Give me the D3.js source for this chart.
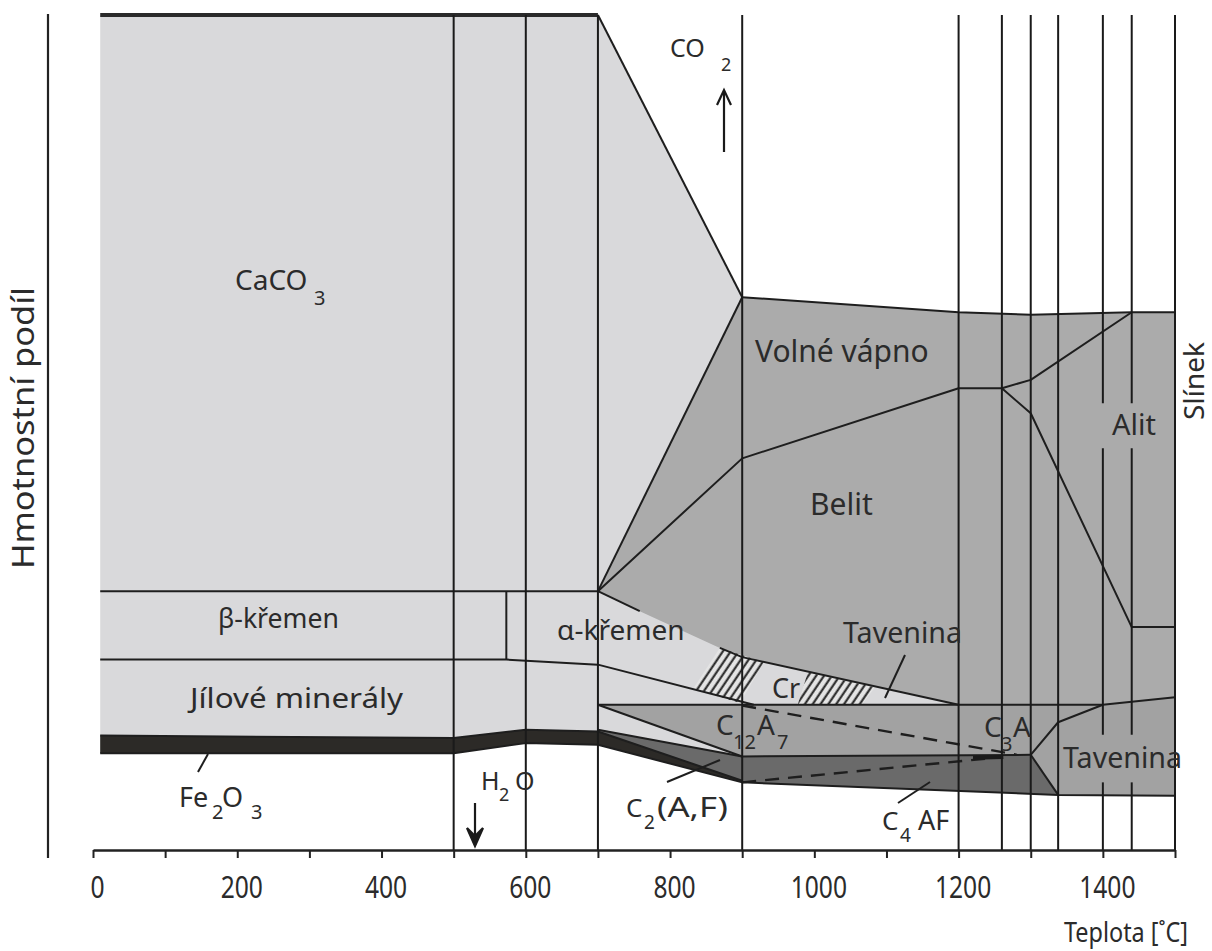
<!DOCTYPE html>
<html><head><meta charset="utf-8">
<script src="https://cdn.jsdelivr.net/npm/d3@7"></script>
<style>
body{margin:0;background:#fff}
svg{display:block}
text{font-family:"Noto Sans","Open Sans",sans-serif;fill:#2b2b2b}
</style>
</head><body><svg id="c" width="1212" height="951"></svg>
<script>
// ---------- data: temperature [°C], mass share [arbitrary 0-100 units] ----------
const transitionTemps = [500, 600, 700, 900, 1200, 1260, 1300, 1338, 1400, 1440, 1500];
const gappedTemps = [1400, 1440];
const labelGaps = [[53.5, 48.1], [13.8, 8.1]];
const tickValues = [0,100,200,300,400,500,600,700,800,900,1000,1100,1200,1300,1400,1500];
const tickLabels = [0, 200, 400, 600, 800, 1000, 1200, 1400];

// region outlines
const stackOutline = [[10,100],[700,100],[900,66.2],[1200,64.4],[1300,64.1],[1500,64.4],[1500,6.5],[1338,6.6],[900,8.1],[700,12.6],[600,12.8],[500,11.6],[10,11.6]];
const silicateZone = [[700,31.0],[900,66.2],[1200,64.4],[1300,64.1],[1500,64.4],[1500,18.3],[1400,17.4],[1200,17.4],[900,23.1],[869,24.2],[758,28.6]];
const aluminateZone = [[700,17.4],[1400,17.4],[1500,18.3],[1500,6.5],[1338,6.6],[1300,11.4],[900,11.2]];
const ferriteZone = [[700,14.4],[900,11.2],[1300,11.4],[1338,6.6],[900,8.1],[700,12.6]];
const ironZone = [[10,13.7],[500,13.4],[600,14.4],[700,14.2],[900,8.3],[900,8.1],[700,12.6],[600,12.8],[500,11.6],[10,11.6]];
const hatchLeft = [[832,19.3],[869,24.2],[930,22.5],[897,17.6]];
const hatchRight = [[977,17.4],[991,21.3],[1084,19.5],[1066,17.4]];

// boundary lines
const topLine = [[10,100],[700,100]];
const caco3Edge = [[700,100],[900,66.2]];
const clinkerTop = [[900,66.2],[1200,64.4],[1300,64.1],[1440,64.4],[1500,64.4]];
const caco3Lower = [[700,31.0],[900,66.2]];
const limeBelit = [[700,31.0],[900,46.9],[1200,55.3],[1260,55.3],[1300,56.3],[1440,64.4]];
const alitBelit = [[1260,55.3],[1300,52.3],[1440,26.7],[1500,26.7]];
const quartzTop = [[10,31.0],[700,31.0]];
const alphaEdge = [[700,31.0],[758,28.6]];
const betaAlpha = [[573,31.0],[573,22.8]];
const clayTop = [[10,22.8],[573,22.8],[700,22.2],[916,17.4]];
const meltTop = [[869,24.2],[900,23.1],[1200,17.4]];
const silicateBase = [[700,17.4],[1400,17.4],[1500,18.3]];
const c12a7Edge = [[700,17.4],[900,11.2]];
const ferriteTop = [[700,14.4],[900,11.2]];
const c4afTop = [[900,11.2],[1300,11.4]];
const c3aMelt = [[1300,11.4],[1338,15.3],[1400,17.4]];
const c4afMelt = [[1300,11.4],[1338,6.6]];
const baseLine = [[10,11.6],[500,11.6],[600,12.8],[700,12.6],[900,8.1],[1338,6.6],[1500,6.5]];
const ironTop = [[10,13.7],[500,13.4],[600,14.4],[700,14.2],[900,8.3]];
const dashC3A = [[900,17.3],[1281,11.4]];
const dashC4AF = [[900,8.1],[1257,11.1]];
const boldDash = [[1220,11.05],[1262,11.15]];

// ---------- drawing ----------
const svg = d3.select("#c");
const x = d3.scaleLinear().domain([0,1500]).range([93,1175]);
const y = d3.scaleLinear().domain([0,100]).range([850,15]);
const line = d3.line().x(d=>x(d[0])).y(d=>y(d[1]));

const defs = svg.append("defs");
const pat = defs.append("pattern").attr("id","hatch").attr("patternUnits","userSpaceOnUse")
  .attr("width",6.5).attr("height",6.5).attr("patternTransform","rotate(34)");
pat.append("rect").attr("width",6.5).attr("height",6.5).attr("fill","#e4e4e4");
pat.append("line").attr("x1",1.5).attr("y1",0).attr("x2",1.5).attr("y2",6.5).attr("stroke","#1e1e1e").attr("stroke-width",2);

const fills = [
  [stackOutline, "#d9d9db"],
  [silicateZone, "#ababab"],
  [aluminateZone, "#a2a2a2"],
  [ferriteZone, "#6a6a6a"],
  [ironZone, "#2c2a27"],
  [hatchLeft, "url(#hatch)"],
  [hatchRight, "url(#hatch)"]
];
svg.append("g").selectAll("path").data(fills).join("path")
  .attr("d", d => line(d[0]) + "Z").attr("fill", d => d[1]).attr("stroke","none");

const solid = [caco3Edge, clinkerTop, caco3Lower, limeBelit, alitBelit, quartzTop, alphaEdge,
  betaAlpha, clayTop, meltTop, silicateBase, c12a7Edge, ferriteTop, c4afTop, c3aMelt, c4afMelt, baseLine, ironTop];
svg.append("g").selectAll("path").data(solid).join("path")
  .attr("d", line).attr("fill","none").attr("stroke","#1e1e1e").attr("stroke-width",2).attr("stroke-linejoin","round");
svg.append("path").attr("d", line(topLine)).attr("stroke","#2a2a2a").attr("stroke-width",4).attr("fill","none");
svg.append("g").selectAll("path").data([dashC3A, dashC4AF]).join("path")
  .attr("d", line).attr("fill","none").attr("stroke","#1e1e1e").attr("stroke-width",2.4).attr("stroke-dasharray","14 9");
svg.append("path").attr("d", line(boldDash)).attr("stroke","#1a1a1a").attr("stroke-width",4).attr("fill","none");

// vertical transition lines
const vsegs = [];
transitionTemps.forEach(t => {
  if (gappedTemps.includes(t)) {
    let top = 100;
    labelGaps.forEach(g => { vsegs.push([t, top, g[0]]); top = g[1]; });
    vsegs.push([t, top, 0]);
  } else vsegs.push([t, 100, 0]);
});
svg.append("g").selectAll("line").data(vsegs).join("line")
  .attr("x1", d=>x(d[0])).attr("x2", d=>x(d[0])).attr("y1", d=>y(d[1])).attr("y2", d=>y(d[2]))
  .attr("stroke","#1a1a1a").attr("stroke-width",2);

// left (mass share) axis line
svg.append("line").attr("x1", x(0)-45).attr("x2", x(0)-45).attr("y1", y(100)-1).attr("y2", y(0)+8)
  .attr("stroke","#222").attr("stroke-width",2.2);

// x axis
const ax = svg.append("g").attr("transform",`translate(0,${y(0)})`)
  .call(d3.axisBottom(x).tickValues(tickValues).tickSize(8).tickSizeOuter(0)
    .tickFormat(d => tickLabels.includes(d) ? d : ""));
ax.select(".domain").attr("stroke","#222").attr("stroke-width",2.5);
ax.selectAll(".tick line").attr("stroke","#222").attr("stroke-width",2);
ax.selectAll(".tick text").attr("y",48).attr("dy",0).attr("font-size",30)
  .attr("transform","translate(4,0) scale(0.82,1)")
  .style("font-family","'Noto Sans',sans-serif").attr("fill","#2b2b2b");

// ---------- labels ----------
const labels = [
  {t:"CaCO", x:235, y:290, s:28}, {t:"3", x:314, y:305, s:20},
  {t:"β-křemen", x:218, y:628, s:28, w:121},
  {t:"α-křemen", x:557, y:640, s:28},
  {t:"Jílové minerály", x:190, y:708, s:28, w:213},
  {t:"Volné vápno", x:755, y:362, s:30},
  {t:"Belit", x:810, y:515, s:30},
  {t:"Alit", x:1112, y:435, s:29},
  {t:"Tavenina", x:843, y:643, s:29, w:119},
  {t:"Cr", x:772, y:698, s:27},
  {t:"C", x:716, y:735, s:28}, {t:"12", x:733, y:749, s:20}, {t:"A", x:757, y:735, s:28}, {t:"7", x:777, y:749, s:20},
  {t:"C", x:984, y:737, s:28}, {t:"3", x:1001, y:751, s:20}, {t:"A", x:1013, y:737, s:28},
  {t:"Tavenina", x:1063, y:768, s:29, w:119},
  {t:"Fe", x:179, y:807, s:27}, {t:"2", x:212, y:819, s:20}, {t:"O", x:222, y:807, s:27}, {t:"3", x:251, y:819, s:20},
  {t:"C", x:626, y:817, s:26}, {t:"2", x:644, y:829, s:19}, {t:"(A,F)", x:657, y:817, s:27, w:71},
  {t:"C", x:882, y:830, s:26}, {t:"4", x:900, y:842, s:19}, {t:"AF", x:918, y:830, s:27},
  {t:"H", x:481, y:790, s:25}, {t:"2", x:499, y:801, s:18}, {t:"O", x:515, y:790, s:25},
  {t:"CO", x:670, y:57, s:25}, {t:"2", x:721, y:71, s:18}
];
svg.append("g").selectAll("text").data(labels).join("text")
  .attr("x", d=>d.x).attr("y", d=>d.y).attr("font-size", d=>d.s)
  .each(function(d){ if (d.w) d3.select(this).attr("textLength", d.w).attr("lengthAdjust","spacingAndGlyphs"); })
  .text(d=>d.t);

svg.append("text").attr("x",1188).attr("y",942).attr("font-size",28)
  .attr("text-anchor","end").text("Teplota [˚C]")
  .attr("textLength",124).attr("lengthAdjust","spacingAndGlyphs");
svg.append("text").attr("transform","translate(34,428) rotate(-90)").attr("text-anchor","middle")
  .attr("font-size",30).attr("textLength",282).attr("lengthAdjust","spacingAndGlyphs").text("Hmotnostní podíl");
svg.append("text").attr("transform","translate(1204,381) rotate(-90)").attr("text-anchor","middle")
  .attr("font-size",28).text("Slínek");

// pointer lines
const pointers = [[198,772,208,754],[667,782,720,760],[898,803,930,782],[905,655,885,698]];
svg.append("g").selectAll("line").data(pointers).join("line")
  .attr("x1",d=>d[0]).attr("y1",d=>d[1]).attr("x2",d=>d[2]).attr("y2",d=>d[3])
  .attr("stroke","#1e1e1e").attr("stroke-width",2);

// arrows: CO2 up, H2O down
const arr = svg.append("g").attr("stroke","#1a1a1a").attr("fill","none").attr("stroke-width",2.2);
arr.append("line").attr("x1",724).attr("x2",724).attr("y1",152).attr("y2",92);
arr.append("path").attr("d","M717,105 L724,90 L731,105");
arr.append("line").attr("x1",475).attr("x2",475).attr("y1",803).attr("y2",844);
arr.append("path").attr("d","M467,828 L475,846 L483,828 L475,836 Z").attr("fill","#1a1a1a");
</script></body></html>
